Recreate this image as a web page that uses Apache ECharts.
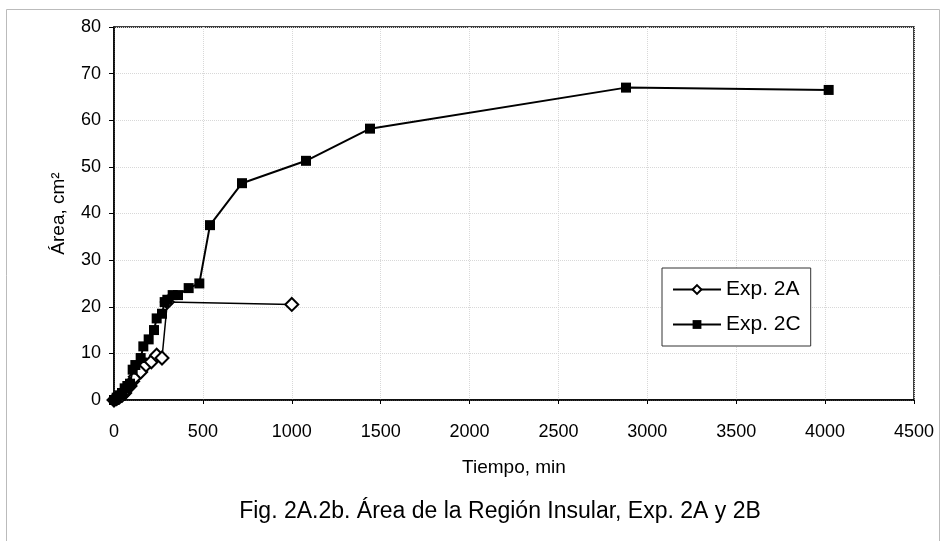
<!DOCTYPE html>
<html><head><meta charset="utf-8">
<script src="https://cdn.jsdelivr.net/npm/echarts@6/dist/echarts.min.js"></script>
<style>html,body{margin:0;padding:0;background:#fff}#c{width:940px;height:541px}</style>
</head><body><div id="c"></div>
<script>
const FONT = "'Liberation Sans Narrow','Arial Narrow','Liberation Sans',Arial,sans-serif";
const xTicks = [0,500,1000,1500,2000,2500,3000,3500,4000,4500];
const yTicks = [0,10,20,30,40,50,60,70,80];
const exp2A_t = [0,15,30,45,60,75,90,105,120,150,180,210,240,270,300,1000];
const exp2A_a = [0,0.3,0.6,1,1.5,2.5,3,4,5,6,7.5,8.2,9.6,9,21,20.5];
const exp2C_t = [0,15,30,45,60,75,90,105,120,150,165,195,225,240,270,285,300,330,360,420,480,540,720,1080,1440,2880,4020];
const exp2C_a = [0,0.5,1,1.5,2.5,3,3.5,6.5,7.5,9,11.5,13,15,17.5,18.5,21,21.5,22.5,22.5,24,25,37.5,46.5,51.3,58.2,67,66.5];
const names = ['Exp. 2A','Exp. 2C'];
const caption = 'Fig. 2A.2b. Área de la Región Insular, Exp. 2A y 2B';

const chart = echarts.init(document.getElementById('c'));
const grid = {left:114, right:26, top:27, bottom:141};
chart.setOption({
  animation:false,
  backgroundColor:'#fff',
  textStyle:{fontFamily:FONT},
  grid:Object.assign({show:true, borderColor:'#000', borderWidth:1.5}, grid),
  legend:{
    orient:'vertical', left:662, top:268,
    backgroundColor:'#fff', borderColor:'#333', borderWidth:1,
    padding:[11,10,11,10], itemGap:14, itemWidth:48, itemHeight:11,
    textStyle:{fontFamily:FONT, fontSize:21, color:'#000'},
    data:names
  },
  xAxis:{
    type:'value', min:xTicks[0], max:xTicks[xTicks.length-1], interval:500,
    name:'Tiempo, min', nameLocation:'middle', nameGap:58,
    nameTextStyle:{fontFamily:FONT, fontSize:19, color:'#000'},
    axisLine:{show:true, lineStyle:{color:'#000', width:1.5}},
    axisTick:{show:true, length:4, lineStyle:{color:'#000'}},
    axisLabel:{fontFamily:FONT, fontSize:18, color:'#000', margin:23, formatter:v=>String(v)},
    splitLine:{show:true, lineStyle:{color:'#d8d8d8', type:'dotted', width:1}}
  },
  yAxis:{
    type:'value', min:yTicks[0], max:yTicks[yTicks.length-1], interval:10,
    name:'Área, cm²', nameLocation:'middle', nameGap:46, nameRotate:90,
    nameTextStyle:{fontFamily:FONT, fontSize:19, color:'#000'},
    axisLine:{show:true, lineStyle:{color:'#000', width:1.5}},
    axisTick:{show:true, length:5, lineStyle:{color:'#000'}},
    axisLabel:{fontFamily:FONT, fontSize:18, color:'#000', margin:13, formatter:v=>String(v)},
    splitLine:{show:true, lineStyle:{color:'#d8d8d8', type:'dotted', width:1}}
  },
  series:[
    {name:names[0], type:'line', symbol:'emptyDiamond', symbolSize:13,
     showAllSymbol:true,
     lineStyle:{color:'#000', width:1.5}, itemStyle:{color:'#000', borderColor:'#000', borderWidth:2},
     data:exp2A_t.map((t,i)=>[t,exp2A_a[i]]), z:2},
    {name:names[1], type:'line', symbol:'rect', symbolSize:10,
     showAllSymbol:true,
     lineStyle:{color:'#000', width:2}, itemStyle:{color:'#000'},
     data:exp2C_t.map((t,i)=>[t,exp2C_a[i]]), z:3}
  ],
  graphic:[
    {type:'rect', left:4, top:7, shape:{width:933, height:534},
     style:{fill:'none', stroke:'#bbb', lineWidth:1}, silent:true},
    {type:'text', x:500, y:512, style:{text:caption, font:'23px '+FONT, fill:'#000', textAlign:'center', textVerticalAlign:'middle'}}
  ]
});
</script></body></html>
